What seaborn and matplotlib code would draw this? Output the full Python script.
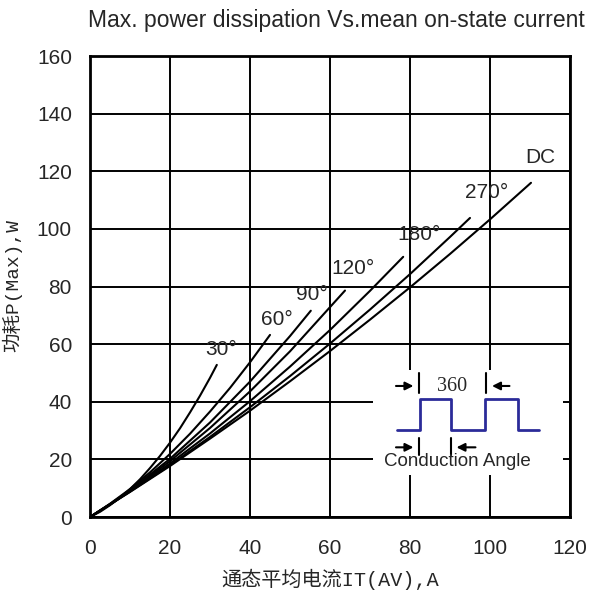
import pandas as pd
import seaborn as sns
import matplotlib.pyplot as plt

# Curve data (mean on-state current, A -> power, W)
curve_names = ['30°', '60°', '90°', '120°', '180°', '270°', 'DC']
x_30 = [0, 2.5, 5, 7.5, 10, 12.5, 15, 17.5, 20, 22.5, 25, 27.5, 30, 31.7]
y_30 = [0, 1.8, 4.1, 6.7, 9.7, 13.1, 17.0, 21.2, 25.8, 30.8, 36.3, 42.1, 48.3, 52.8]
x_60 = [0, 5, 10, 15, 20, 25, 30, 35, 40, 45]
y_60 = [0, 4.6, 9.7, 15.5, 21.9, 28.9, 36.6, 44.8, 53.7, 63.2]
x_90 = [0, 5, 10, 20, 30, 40, 50, 55.2]
y_90 = [0, 4.5, 9.3, 20.2, 32.8, 47.0, 62.8, 71.6]
x_120 = [0, 5, 10, 20, 30, 40, 50, 63.75]
y_120 = [0, 4.4, 9.1, 19.4, 30.9, 43.6, 57.5, 78.6]
x_180 = [0, 5, 10, 20, 30, 40, 50, 60, 70, 78.3]
y_180 = [0, 4.35, 8.9, 18.6, 29.0, 40.2, 52.2, 64.9, 78.5, 90.3]
x_270 = [0, 10, 20, 30, 40, 50, 60, 70, 80, 90, 95]
y_270 = [0, 8.8, 18.0, 27.8, 38.1, 48.9, 60.2, 72.0, 84.3, 97.2, 103.8]
x_dc = [0, 10, 20, 30, 40, 50, 60, 70, 80, 90, 100, 110.25]
y_dc = [0, 8.7, 17.7, 27.2, 36.9, 47.1, 57.6, 68.5, 79.7, 91.3, 103.3, 116]

# label positions for each curve
label_x = [32.75, 46.75, 55.5, 65.8, 82.3, 99.2, 112.5]
label_y = [58.3, 68.4, 77.3, 86.4, 97.9, 112.7, 124.8]

x_ticks = [0, 20, 40, 60, 80, 100, 120]
y_ticks = [0, 20, 40, 60, 80, 100, 120, 140, 160]

# waveform sketch in the inset (inset units)
wave_x = [23.7, 46.3, 46.3, 77.7, 77.7, 112, 112, 144.3, 144.3, 165.3]
wave_y = [45, 45, 76, 76, 45, 45, 76, 76, 45, 45]

xs = [x_30, x_60, x_90, x_120, x_180, x_270, x_dc]
ys = [y_30, y_60, y_90, y_120, y_180, y_270, y_dc]
rows = []
for name, cx, cy in zip(curve_names, xs, ys):
    for a, b in zip(cx, cy):
        rows.append({'curve': name, 'I': a, 'P': b})
df = pd.DataFrame(rows)

sns.set_style('white')
plt.rcParams['font.family'] = ['Liberation Sans', 'DejaVu Sans']

fig = plt.figure(figsize=(5.93, 5.91), dpi=100)
ax = fig.add_axes([0.1518, 0.1252, 0.9612 - 0.1518, 0.9052 - 0.1252])

sns.lineplot(data=df, x='I', y='P', hue='curve', palette=['black'] * 7,
             estimator=None, sort=False, legend=False, linewidth=1.5, ax=ax)

for name, lx, ly in zip(curve_names, label_x, label_y):
    ax.text(lx, ly, name, fontsize=15, ha='center', va='center')

ax.set_xlim(0, 120)
ax.set_ylim(0, 160)
ax.set_xticks(x_ticks)
ax.set_yticks(y_ticks)
ax.tick_params(axis='both', labelsize=15, length=0)
ax.tick_params(axis='x', pad=16)
ax.tick_params(axis='y', pad=13)
ax.grid(True, color='black', linewidth=1.4)
ax.set_axisbelow(True)
for s in ax.spines.values():
    s.set_color('black')
    s.set_linewidth(2)
ax.set_xlabel('')
ax.set_ylabel('')

# inset with the conduction angle sketch
ax_in = ax.inset_axes([0.590, 0.091, 0.396, 0.228])
ax_in.set_xlim(0, 190)
ax_in.set_ylim(0, 105)
ax_in.set_xticks([])
ax_in.set_yticks([])
ax_in.set_facecolor('white')
for s in ax_in.spines.values():
    s.set_visible(False)
ax_in.plot(wave_x, wave_y, color='#2b2b99', linewidth=2)
arrow = dict(arrowstyle='-|>', color='black', lw=1.5, mutation_scale=12)
ax_in.annotate('', xy=(43, 89), xytext=(20, 89), arrowprops=arrow)
ax_in.plot([45.3, 45.3], [82, 102], color='black', linewidth=1.5)
ax_in.plot([113, 113], [82, 102], color='black', linewidth=1.5)
ax_in.annotate('', xy=(116, 89), xytext=(139, 89), arrowprops=arrow)
ax_in.annotate('', xy=(43, 27.7), xytext=(20, 27.7), arrowprops=arrow)
ax_in.plot([45.3, 45.3], [20, 37], color='black', linewidth=1.5)
ax_in.plot([77.7, 77.7], [20, 37], color='black', linewidth=1.5)
ax_in.annotate('', xy=(80.5, 27.7), xytext=(105, 27.7), arrowprops=arrow)
ax_in.text(78.7, 88.3, '360', fontsize=14.5, family='Liberation Serif',
           ha='center', va='center')
ax_in.text(83.7, 13.3, 'Conduction Angle', fontsize=13.5, ha='center', va='center')

fig.text(336 / 593, 1 - 20 / 591, 'Max. power dissipation Vs.mean on-state current',
         fontsize=16.5, ha='center', va='center')
fig.text(330 / 593, 1 - 579 / 591, '通态平均电流IT(AV),A', fontsize=14.5,
         family=['Liberation Mono', 'Noto Sans CJK SC'], ha='center', va='center')
fig.text(12 / 593, 1 - 286 / 591, '功耗P(Max),W', fontsize=14, rotation=90,
         family=['Liberation Mono', 'Noto Sans CJK SC'], ha='center', va='center')

fig.savefig('out.png', dpi=100)
